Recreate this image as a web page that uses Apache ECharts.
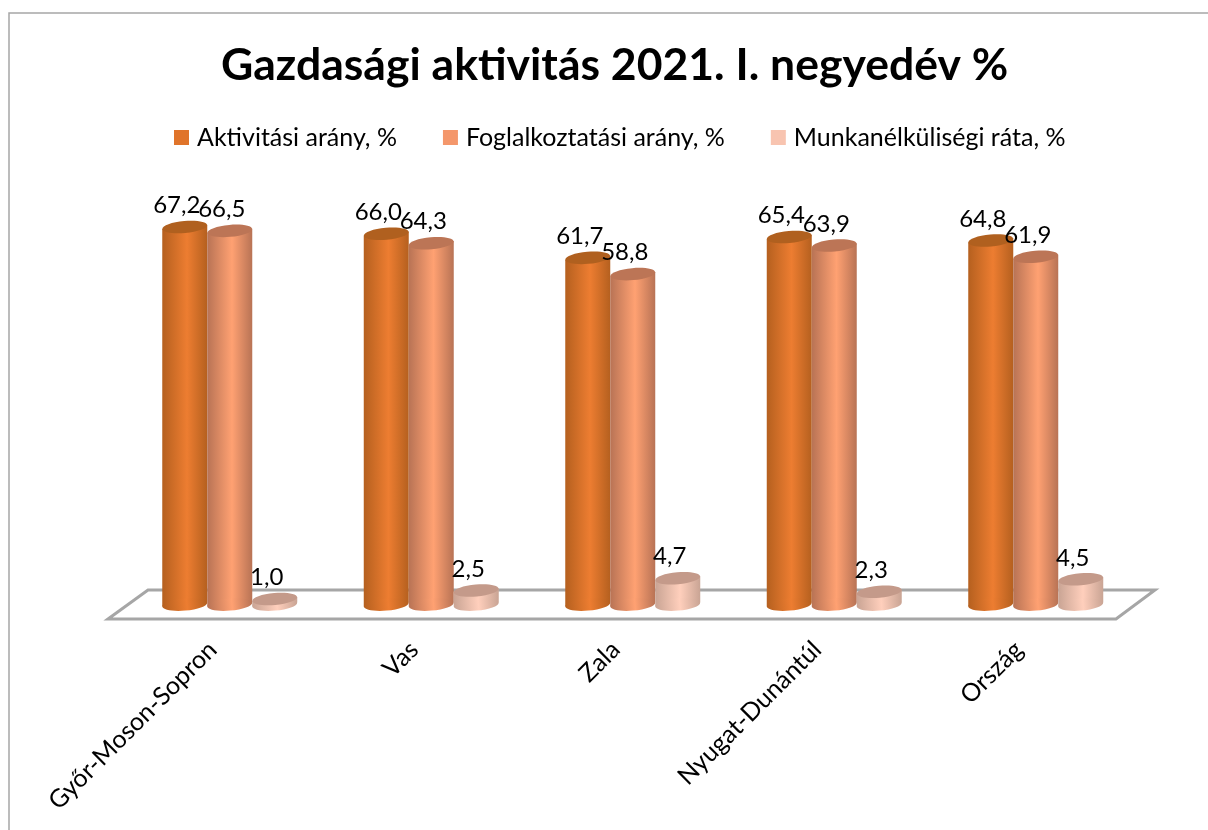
<html>
<head>
    <meta charset="utf-8">
    <title>Gazdasági aktivitás</title>
    <script src="https://cdn.jsdelivr.net/npm/echarts@6/dist/echarts.min.js"></script>
    <style>
        html, body { margin: 0; padding: 0; background: #fff; }
    </style>
</head>
<body>
    <div id="chartmain" style="width:1208px; height:830px;"></div>
    <script type="text/javascript">
        var categories = ['Győr-Moson-Sopron', 'Vas', 'Zala', 'Nyugat-Dunántúl', 'Ország'];
        var aktivitasi = [67.2, 66.0, 61.7, 65.4, 64.8];
        var foglalkoztatasi = [66.5, 64.3, 58.8, 63.9, 61.9];
        var munkanelkulisegi = [1.0, 2.5, 4.7, 2.3, 4.5];

        var fontName = 'Lato, sans-serif';
        var myChart = echarts.init(document.getElementById('chartmain'));

        // henger: test + alsó ellipszis + felső ellipszis + felirat
        function cylinder(seriesPos, edge, mid, top) {
            return function (params, api) {
                var i = api.value(0);
                var v = api.value(1);
                var band = api.size([1, 0])[0];
                var w = band * 0.2233;
                var r = w / 2;
                var base = api.coord([i, 0]);
                var head = api.coord([i, v]);
                var cx = base[0] + seriesPos * w;
                var tilt = 2;
                var ry = 6;
                var rot = 5 * Math.PI / 180;
                var fill = new echarts.graphic.LinearGradient(0, 0, 1, 0, [
                    { offset: 0, color: edge },
                    { offset: 0.55, color: mid },
                    { offset: 1, color: edge }
                ]);
                return {
                    type: 'group',
                    children: [
                        {
                            type: 'polygon',
                            shape: { points: [[cx - r, head[1] + tilt], [cx + r, head[1] - tilt], [cx + r, base[1] - tilt], [cx - r, base[1] + tilt]] },
                            style: { fill: fill }
                        },
                        {
                            type: 'ellipse',
                            x: cx, y: base[1], rotation: rot,
                            shape: { cx: 0, cy: 0, rx: r, ry: ry },
                            style: { fill: fill }
                        },
                        {
                            type: 'ellipse',
                            x: cx, y: head[1], rotation: rot,
                            shape: { cx: 0, cy: 0, rx: r, ry: ry },
                            style: { fill: top }
                        },
                        {
                            type: 'text',
                            style: {
                                x: cx - 8, y: head[1] - 21.5,
                                text: v.toFixed(1).replace('.', ','),
                                font: '24px ' + fontName,
                                fill: '#000',
                                align: 'center', verticalAlign: 'middle'
                            }
                        }
                    ]
                };
            };
        }

        function toData(values) {
            return values.map(function (v, i) { return [i, v]; });
        }

        myChart.setOption({
            backgroundColor: '#fff',
            animation: false,
            title: {
                text: 'Gazdasági aktivitás 2021. I. negyedév %',
                left: 216, top: 38,
                textStyle: { fontFamily: fontName, fontSize: 44.5, fontWeight: 'bold', color: '#000' }
            },
            legend: {
                left: 169, top: 120,
                icon: 'rect',
                itemWidth: 15, itemHeight: 15, itemGap: 46,
                textStyle: { fontFamily: fontName, fontSize: 25, color: '#000', padding: [0, 0, 0, 3] }
            },
            grid: { left: 129, width: 1007.5, top: 155, height: 449.6 },
            xAxis: {
                type: 'category',
                data: categories,
                axisLine: { show: false },
                axisTick: { show: false },
                axisLabel: { rotate: 45, margin: 24, padding: [0, 24, 0, 0], fontFamily: fontName, fontSize: 25, color: '#000', interval: 0 }
            },
            yAxis: { type: 'value', min: 0, max: 80, show: false },
            graphic: [
                {
                    type: 'rect', z: -2,
                    shape: { x: 9, y: 13, width: 1300, height: 900 },
                    style: { fill: 'none', stroke: '#A6A6A6', lineWidth: 1.5 }
                },
                {
                    type: 'polygon', z: -1,
                    shape: { points: [[108, 619], [148, 590], [1155, 590], [1116, 619]] },
                    style: { fill: 'none', stroke: '#A6A6A6', lineWidth: 3 }
                }
            ],
            series: [
                {
                    name: 'Aktivitási arány, %', type: 'custom',
                    itemStyle: { color: '#E0742A' },
                    encode: { x: 0, y: 1 },
                    renderItem: cylinder(-1, '#B5601F', '#ED7D31', '#B0601F'),
                    data: toData(aktivitasi)
                },
                {
                    name: 'Foglalkoztatási arány, %', type: 'custom',
                    itemStyle: { color: '#F4976B' },
                    encode: { x: 0, y: 1 },
                    renderItem: cylinder(0, '#B87355', '#FFA172', '#BC7556'),
                    data: toData(foglalkoztatasi)
                },
                {
                    name: 'Munkanélküliségi ráta, %', type: 'custom',
                    itemStyle: { color: '#F8C4B0' },
                    encode: { x: 0, y: 1 },
                    renderItem: cylinder(1, '#C9A494', '#FFCFBC', '#C49A8A'),
                    data: toData(munkanelkulisegi)
                }
            ]
        });
    </script>
</body>
</html>
